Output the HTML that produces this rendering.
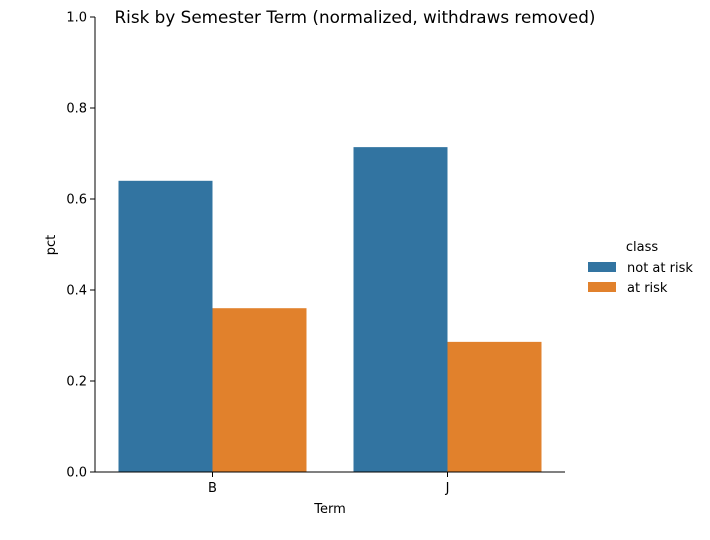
<!DOCTYPE html>
<html><head><meta charset="utf-8"><style>
body{margin:0;background:#fff;font-family:"Liberation Sans","DejaVu Sans",sans-serif}
svg text{font-family:"DejaVu Sans","Liberation Sans",sans-serif;fill:#000}
</style></head><body>
<svg id="chart" width="710" height="535">
<text x="355" y="23" font-size="16.5" text-anchor="middle" textLength="481" lengthAdjust="spacingAndGlyphs">Risk by Semester Term (normalized, withdraws removed)</text>
<g id="plot"></g>
<text x="330" y="513" font-size="13" text-anchor="middle">Term</text>
<text transform="translate(55,245) rotate(-90)" font-size="13" text-anchor="middle">pct</text>
<g>
<text x="642" y="251" font-size="13" text-anchor="middle">class</text>
<g><rect x="588" y="262" width="28" height="10" fill="#3274a1"/><text x="627" y="272" font-size="13">not at risk</text></g>
<g><rect x="588" y="282" width="28" height="10" fill="#e1812c"/><text x="627" y="292" font-size="13">at risk</text></g>
</g>
</svg>
<script>
const categories=["B","J"];
const notAtRisk=[0.64,0.714];
const atRisk=[0.36,0.286];
const yTicks=[0.0,0.2,0.4,0.6,0.8,1.0];
const NS="http://www.w3.org/2000/svg";
const g=document.getElementById('plot');
const x0=95,x1=565,y0=472,y1=17;
const band=(x1-x0)/categories.length;
const y=v=>y0-(y0-y1)*v;
const xc=i=>x0+band*(i+0.5);
function el(t,a){const e=document.createElementNS(NS,t);for(const k in a)e.setAttribute(k,a[k]);g.appendChild(e);return e;}
const bw=band*0.4;
categories.forEach((c,i)=>{
 let r=el('rect',{x:xc(i)-bw,y:y(notAtRisk[i]),width:bw,height:y0-y(notAtRisk[i]),fill:'#3274a1'});
 
 
 let r2=el('rect',{x:xc(i),y:y(atRisk[i]),width:bw,height:y0-y(atRisk[i]),fill:'#e1812c'});
 
 
 el('line',{x1:xc(i),x2:xc(i),y1:y0,y2:y0+5,stroke:'#000'});
 let t=el('text',{x:xc(i),y:y0+20,'font-size':13,'text-anchor':'middle'});t.textContent=c;
 
 
});
yTicks.forEach(v=>{
 el('line',{x1:x0-5,x2:x0,y1:y(v),y2:y(v),stroke:'#000'});
 let t=el('text',{x:x0-8,y:y(v)+4.5,'font-size':13,'text-anchor':'end'});t.textContent=v.toFixed(1);
 
 
});
let ax=el('line',{x1:x0,x2:x0,y1:y1,y2:y0,stroke:'#000'});


let bx=el('line',{x1:x0,x2:x1,y1:y0,y2:y0,stroke:'#000'});


</script>
</body></html>
